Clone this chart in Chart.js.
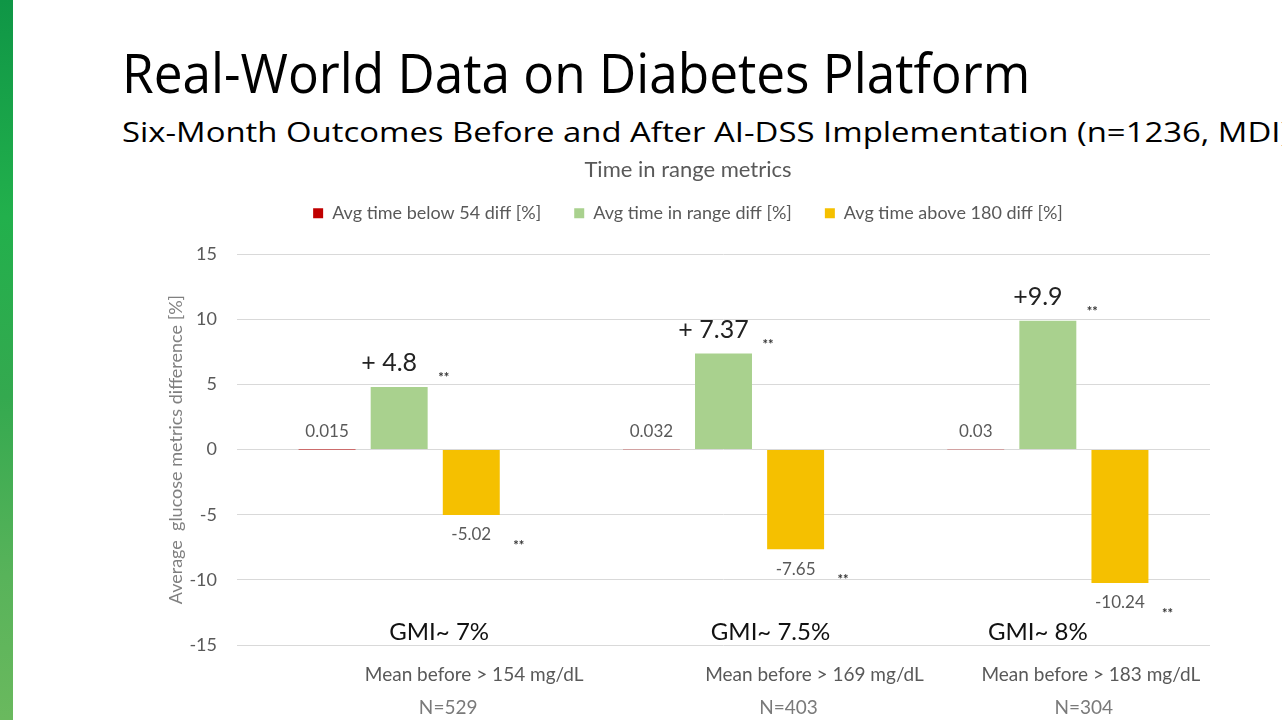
<!DOCTYPE html>
<html>
<head>
<meta charset="utf-8">
<script src="https://cdn.jsdelivr.net/npm/chart.js@4.4.1/dist/chart.umd.min.js"></script>
<style>
html, body { margin: 0; padding: 0; background: #fff; width: 1282px; height: 720px; overflow: hidden; }
#stripe { position: absolute; left: 0; top: 0; width: 13px; height: 720px;
  background: linear-gradient(#0f9646, #22b04c 30%, #34a94f 55%, #58b35a 80%, #6ab95e); }
.head { position: absolute; left: 122px; white-space: nowrap; color: #000; line-height: 1;
  font-family: 'Open Sans', 'Liberation Sans', sans-serif; transform-origin: 0 0; }
#title { top: 44px; font-size: 55px; }
#sub { top: 117px; font-size: 28px; }
#wrap { position: absolute; left: 166px; top: 140px; width: 1116px; height: 580px; }
</style>
</head>
<body>
<div id="stripe"></div>
<div id="title" class="head">Real-World Data on Diabetes Platform</div>
<div id="sub" class="head">Six-Month Outcomes Before and After AI-DSS Implementation (n=1236, MDI)</div>
<div id="wrap"><canvas id="myChart"></canvas></div>
<script>
var categories = ['GMI~ 7%', 'GMI~ 7.5%', 'GMI~ 8%'];
var meanBefore = ['Mean before > 154 mg/dL', 'Mean before > 169 mg/dL', 'Mean before > 183 mg/dL'];
var groupN = ['N=529', 'N=403', 'N=304'];
var seriesNames = ['Avg time below 54 diff [%]', 'Avg time in range diff [%]', 'Avg time above 180 diff [%]'];
var below54 = [0.015, 0.032, 0.03];
var inRange = [4.8, 7.37, 9.9];
var above180 = [-5.02, -7.65, -10.24];
var inRangeText = ['+ 4.8', '+ 7.37', '+9.9'];
var signif = ['**', '**', '**'];
var yMin = -15, yMax = 15, yStep = 5;

// squeeze the slide headings to the width they have on the slide
function fitWidth(id, w) {
    var el = document.getElementById(id);
    el.style.transform = 'scaleX(' + (w / el.scrollWidth) + ')';
}
fitWidth('title', 908);
fitWidth('sub', 1168);

var chartFont = 'Lato';
var gray = '#595959';

// where the slide's text boxes sit, relative to each group centre
var gmiDx = [40, 47, -10];
var meanDx = [75, 91, 43];
var nDx = [49, 65, 36];

var labelPlugin = {
    id: 'labelPlugin',
    afterDatasetsDraw: function(chart) {
        var ctx = chart.ctx;
        ctx.save();
        ctx.textAlign = 'center';
        ctx.textBaseline = 'middle';
        var m0 = chart.getDatasetMeta(0).data;
        var m1 = chart.getDatasetMeta(1).data;
        var m2 = chart.getDatasetMeta(2).data;
        for (var i = 0; i < categories.length; i++) {
            ctx.font = '17px ' + chartFont;
            ctx.fillStyle = gray;
            ctx.fillText(String(below54[i]), m0[i].x, m0[i].y - 18);
            ctx.fillText(String(above180[i]), m2[i].x, m2[i].y + 20);

            ctx.font = '25px ' + chartFont;
            ctx.fillStyle = '#222';
            ctx.fillText(inRangeText[i], m1[i].x - 10, m1[i].y - 24);

            ctx.font = 'bold 13px ' + chartFont;
            ctx.fillStyle = '#333';
            ctx.fillText(signif[i], m1[i].x + m1[i].width / 2 + 16, m1[i].y - 9);
            ctx.fillText(signif[i], m2[i].x + m2[i].width / 2 + 19, m2[i].y + 31);
        }
        var x = chart.scales.x, y = chart.scales.y;
        for (var j = 0; j < categories.length; j++) {
            var cx = x.getPixelForValue(j);
            ctx.font = '24px ' + chartFont;
            ctx.fillStyle = '#111';
            ctx.fillText(categories[j], cx + gmiDx[j], y.getPixelForValue(yMin) - 13);
            ctx.font = '19px ' + chartFont;
            ctx.fillStyle = gray;
            ctx.fillText(meanBefore[j], cx + meanDx[j], chart.chartArea.bottom + 30);
            ctx.fillStyle = '#7a7a7a';
            ctx.fillText(groupN[j], cx + nDx[j], chart.chartArea.bottom + 63);
        }
        ctx.restore();
    }
};

var ctx = document.getElementById('myChart').getContext('2d');
var myChart = new Chart(ctx, {
    type: 'bar',
    data: {
        labels: categories,
        datasets: [{
            label: seriesNames[0],
            data: below54,
            backgroundColor: '#c00000'
        }, {
            label: seriesNames[1],
            data: inRange,
            backgroundColor: '#a9d18e'
        }, {
            label: seriesNames[2],
            data: above180,
            backgroundColor: '#f5c000'
        }]
    },
    options: {
        responsive: true,
        maintainAspectRatio: false,
        animation: false,
        categoryPercentage: 0.667,
        barPercentage: 0.79,
        layout: { padding: { left: 0, right: 72, top: 0, bottom: 75 } },
        plugins: {
            title: {
                display: true,
                text: 'Time in range metrics',
                color: gray,
                font: { family: chartFont, size: 22, weight: 'normal', lineHeight: 0.1 },
                padding: { top: 29, bottom: 0 }
            },
            legend: {
                position: 'top',
                labels: {
                    boxWidth: 10,
                    boxHeight: 10,
                    padding: 33,
                    color: gray,
                    font: { family: chartFont, size: 18 }
                }
            },
            tooltip: { enabled: false }
        },
        scales: {
            x: {
                position: 'top',
                grid: { display: false },
                border: { display: false },
                ticks: { display: false },
                afterFit: function(s) { s.height = 22; }
            },
            y: {
                min: yMin,
                max: yMax,
                ticks: {
                    stepSize: yStep,
                    color: gray,
                    padding: 20,
                    font: { family: chartFont, size: 18 }
                },
                grid: { color: '#d9d9d9', drawTicks: false },
                border: { display: false },
                title: {
                    display: true,
                    text: 'Average  glucose metrics difference [%]',
                    color: '#808080',
                    font: { family: chartFont, size: 18, lineHeight: 1 },
                    padding: { top: 1, bottom: 0 }
                },
                afterFit: function(s) { s.width = 71; }
            }
        }
    },
    plugins: [labelPlugin]
});
</script>
</body>
</html>
